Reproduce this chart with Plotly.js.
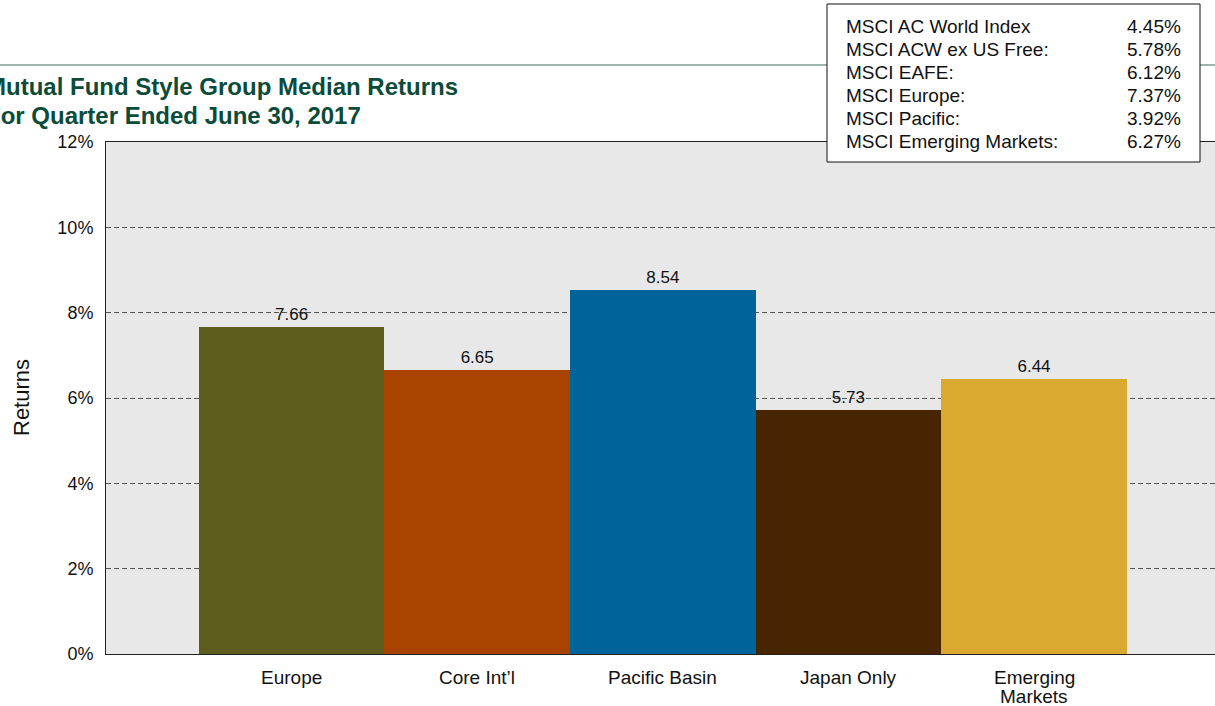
<!DOCTYPE html>
<html>
<head>
<meta charset="utf-8">
<script src="https://cdn.plot.ly/plotly-3.0.1.min.js"></script>
<style>html,body{margin:0;padding:0;background:#fff;}#chart{width:1215px;height:706px;}</style>
</head>
<body>
<div id="chart"></div>
<script>
const categories = ["Europe", "Core Int\u2019l", "Pacific Basin", "Japan Only", "Emerging<br>Markets"];
const medianReturns = [7.66, 6.65, 8.54, 5.73, 6.44];
const barColors = ["#5c5c1f", "#a94400", "#00649a", "#472500", "#daa930"];
const indexNames = ["MSCI AC World Index", "MSCI ACW ex US Free:", "MSCI EAFE:", "MSCI Europe:", "MSCI Pacific:", "MSCI Emerging Markets:"];
const indexValues = ["4.45%", "5.78%", "6.12%", "7.37%", "3.92%", "6.27%"];
const titleLines = ["Mutual Fund Style Group Median Returns", "For Quarter Ended June 30, 2017"];
const yTicks = [0, 2, 4, 6, 8, 10, 12];

const W = 1215, H = 706, L = 106, T = 142, B = 52;
const PW = W - L, PH = H - T - B;
const px = p => (p - L) / PW;
const py = q => (H - B - q) / PH;
const FONT = "Liberation Sans, Arial, sans-serif";

const annotations = [];
titleLines.forEach((t, i) => {
  annotations.push({xref: "paper", yref: "paper", x: px(-16), y: py(86 + i * 29), xanchor: "left", yanchor: "middle",
    text: "<b>" + t + "</b>", showarrow: false, font: {family: FONT, size: 24, color: "#0b4b3a"}});
});
indexNames.forEach((n, i) => {
  annotations.push({xref: "paper", yref: "paper", x: px(844), y: py(26 + i * 23), xanchor: "left", yanchor: "middle",
    text: n, showarrow: false, font: {family: FONT, size: 19, color: "#111"}});
  annotations.push({xref: "paper", yref: "paper", x: px(1183), y: py(26 + i * 23), xanchor: "right", yanchor: "middle",
    text: indexValues[i], showarrow: false, font: {family: FONT, size: 19, color: "#111"}});
});
categories.forEach((c, i) => {
  c.split("<br>").forEach((line, j) => {
    annotations.push({xref: "x", yref: "paper", x: c, y: py(677 + j * 19), xanchor: "center", yanchor: "middle",
      text: line, showarrow: false, font: {family: FONT, size: 19, color: "#111"}});
  });
});
annotations.push({xref: "paper", yref: "paper", x: px(21), y: 0.5, xanchor: "center", yanchor: "middle",
  text: "Returns", textangle: -90, showarrow: false, font: {family: FONT, size: 22, color: "#111"}});

const data = [{
  type: "bar",
  x: categories,
  y: medianReturns,
  marker: {color: barColors, line: {width: 0}},
  text: medianReturns.map(v => v.toFixed(2)),
  textposition: "outside",
  cliponaxis: false,
  textfont: {family: FONT, size: 17, color: "#111"},
  hoverinfo: "x+y"
}];

const layout = {
  width: W, height: H,
  margin: {l: L, r: 0, t: T, b: B, pad: 0},
  paper_bgcolor: "#ffffff",
  plot_bgcolor: "#e8e8e8",
  bargap: 0,
  showlegend: false,
  font: {family: FONT, size: 18, color: "#111"},
  xaxis: {
    type: "category",
    range: [-1, -1 + PW / 185.6],
    showticklabels: false,
    showgrid: false,
    zeroline: false,
    showline: true, linecolor: "#222", linewidth: 1, mirror: true,
    ticks: "", fixedrange: true
  },
  yaxis: {
    range: [0, 12],
    tickvals: yTicks,
    ticktext: yTicks.map(v => v + "%"),
    tickfont: {family: FONT, size: 18, color: "#111"},
    ticks: "outside", ticklen: 8, tickcolor: "rgba(0,0,0,0)",
    showgrid: true, gridcolor: "#555", gridwidth: 1, griddash: "5px,3px",
    zeroline: false,
    showline: true, linecolor: "#222", linewidth: 1, mirror: false,
    fixedrange: true
  },
  shapes: [
    {type: "line", xref: "paper", yref: "paper", x0: px(0), x1: px(W), y0: py(65), y1: py(65),
      line: {color: "#3a6b5c", width: 1}},
    {type: "rect", xref: "paper", yref: "paper", x0: px(827), x1: px(1200), y0: py(162), y1: py(4),
      fillcolor: "#ffffff", line: {color: "#111", width: 1}}
  ],
  annotations: annotations
};

Plotly.newPlot("chart", data, layout, {displayModeBar: false, staticPlot: true});
</script>
</body>
</html>
